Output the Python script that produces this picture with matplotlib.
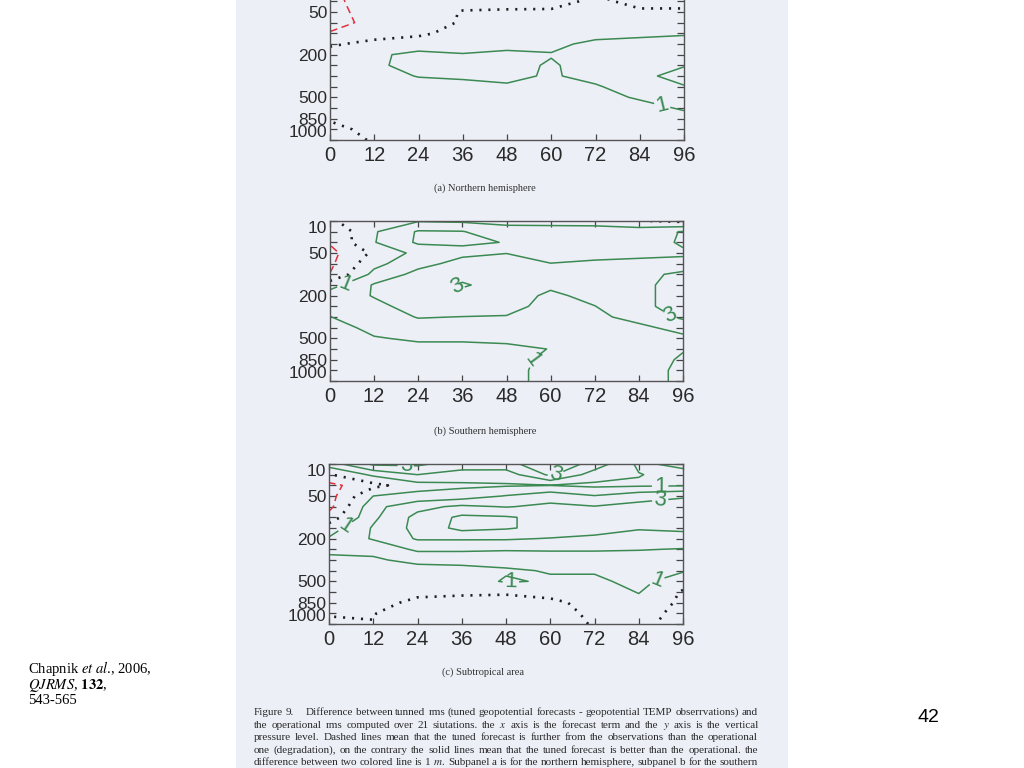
import numpy as np
import matplotlib
matplotlib.use("Agg")
import matplotlib.pyplot as plt
from matplotlib.patches import Rectangle

plt.rcParams['font.family'] = ['Liberation Sans', 'DejaVu Sans']
plt.rcParams['mathtext.fontset'] = 'stix'

# ---------------- data ----------------
pressure_levels = [10, 20, 30, 50, 70, 100, 150, 200, 250, 300, 400, 500, 700, 850, 925, 1000]
forecast_terms = [0, 12, 24, 36, 48, 60, 72, 84, 96]
labelled_levels = [10, 50, 200, 500, 850, 1000]
xtick_values = [0, 12, 24, 36, 48, 60, 72, 84, 96]

# rms difference (m), rows = pressure levels (10 -> 1000 hPa), cols = forecast terms
diff_north = [
    [-1.05, -0.8, -0.6, -0.6, -0.5, -0.5, -0.3, -0.5, -0.5],
    [-1.1, -0.7, -0.5, -0.5, -0.4, -0.4, -0.1, -0.4, -0.4],
    [-1.2, -0.6, -0.5, -0.3, -0.3, -0.25, 0.15, -0.2, -0.2],
    [-1.4, -0.5, -0.4, 0.05, 0.1, 0.1, 0.35, 0.1, 0.1],
    [-1.5, -0.6, -0.5, 0.1, 0.3, 0.3, 0.5, 0.5, 0.6],
    [-0.9, -0.3, -0.15, 0.3, 0.5, 0.5, 0.7, 0.8, 0.9],
    [-0.1, 0.2, 0.4, 0.6, 0.7, 0.8, 1.2, 1.3, 1.4],
    [0.3, 0.8, 1.3, 1.05, 1.2, 1.05, 1.4, 1.5, 1.7],
    [0.4, 0.8, 1.4, 1.2, 1.3, 0.9, 1.4, 1.6, 1.95],
    [0.4, 0.6, 1.05, 1.1, 1.2, 0.9, 1.3, 1.8, 2.3],
    [0.3, 0.5, 0.6, 0.8, 0.9, 0.85, 0.9, 1.5, 1.95],
    [0.3, 0.4, 0.5, 0.5, 0.6, 0.6, 0.7, 1.1, 1.6],
    [0.2, 0.3, 0.4, 0.4, 0.4, 0.4, 0.5, 0.7, 1.1],
    [0.1, 0.3, 0.3, 0.3, 0.3, 0.3, 0.4, 0.5, 0.7],
    [-0.3, 0.3, 0.3, 0.3, 0.3, 0.3, 0.3, 0.4, 0.5],
    [-0.5, 0.1, 0.3, 0.3, 0.3, 0.3, 0.3, 0.3, 0.4],
]

diff_south = [
    [-0.2, 0.95, 0.93, 0.85, 0.8, 0.7, 0.5, 0.07, -0.2],
    [-0.9, 0.9, 2.1, 2.05, 1.3, 1.4, 1.6, 1.6, 2.05],
    [-0.9, 0.95, 2.15, 2.1, 1.98, 1.6, 1.7, 1.6, 2.1],
    [-1.3, 0.2, 1.3, 1.8, 1.98, 1.6, 1.8, 1.8, 1.9],
    [-1.2, 0.7, 1.7, 2.3, 2.4, 2.02, 2.1, 2.2, 2.2],
    [-0.97, 1.3, 2.3, 2.7, 2.6, 2.2, 2.3, 2.6, 3.3],
    [0.6, 2.1, 2.6, 3.1, 2.6, 2.2, 2.4, 2.7, 3.5],
    [1.5, 2.05, 2.5, 2.7, 2.5, 1.8, 2.3, 2.7, 3.5],
    [1.2, 1.8, 2.3, 2.5, 2.3, 1.7, 1.98, 2.7, 3.5],
    [0.98, 1.5, 2.05, 1.98, 1.95, 1.6, 1.8, 2.3, 3.2],
    [0.7, 1.2, 1.6, 1.6, 1.6, 1.5, 1.6, 1.8, 2.3],
    [0.5, 0.95, 1.1, 1.1, 1.2, 1.3, 1.5, 1.6, 1.8],
    [0.4, 0.7, 0.8, 0.8, 0.8, 1.02, 1.4, 1.5, 1.05],
    [0.3, 0.5, 0.6, 0.7, 0.7, 1.2, 1.4, 1.4, 0.9],
    [0.3, 0.4, 0.5, 0.6, 0.7, 1.3, 1.4, 1.4, 0.8],
    [0.3, 0.4, 0.5, 0.6, 0.7, 1.3, 1.4, 1.4, 0.8],
]

diff_subtrop = [
    [1.5, 3.2, 3.2, 2.5, 2.6, 3.9, 2.6, 0.8, 1.3],
    [-0.1, 1.2, 2.0, 1.6, 1.5, 3.2, 1.5, 1.05, 0.6],
    [-1.3, -0.3, 0.6, 0.8, 0.9, 0.98, 0.8, 0.85, 0.9],
    [-1.4, 1.0, 1.3, 1.5, 2.05, 2.6, 2.05, 2.6, 2.9],
    [-1.3, 1.7, 2.7, 3.2, 2.95, 3.2, 3.05, 3.3, 3.4],
    [-0.6, 1.8, 3.3, 4.2, 4.1, 3.7, 3.3, 3.4, 3.5],
    [0.5, 2.1, 3.3, 4.3, 4.1, 3.7, 3.4, 3.1, 3.2],
    [1.1, 2.1, 3.1, 3.1, 3.1, 2.95, 2.8, 2.5, 2.6],
    [1.1, 1.2, 2.2, 2.2, 2.1, 2.1, 2.1, 2.05, 1.95],
    [0.9, 0.9, 1.2, 1.2, 1.3, 1.5, 1.5, 1.5, 1.6],
    [0.7, 0.7, 0.7, 0.8, 0.9, 1.05, 1.1, 1.4, 1.1],
    [0.5, 0.5, 0.45, 0.5, 1.1, 0.9, 0.8, 1.3, 0.4],
    [0.4, 0.4, 0.2, 0.15, 0.1, 0.3, 0.4, 1.05, -0.1],
    [0.3, 0.3, -0.2, -0.3, -0.3, -0.2, 0.3, 0.7, -0.2],
    [0.1, 0.03, -0.4, -0.5, -0.5, -0.3, 0.15, 0.4, -0.3],
    [-0.25, -0.02, -0.5, -0.6, -0.5, -0.3, 0.05, 0.2, -0.3],
]

panel_titles = ["(a) Northern hemisphere", "(b) Southern hemisphere", "(c) Subtropical area"]

caption_lines = [
    "Figure 9. Difference between tunned rms (tuned geopotential forecasts - geopotential TEMP obserrvations) and",
    "the operational rms computed over 21 siutations. the $x$ axis is the forecast term and the $y$ axis is the vertical",
    "pressure level. Dashed lines mean that the tuned forecast is further from the observations than the operational",
    "one (degradation), on the contrary the solid lines mean that the tuned forecast is better than the operational. the",
    "difference between two colored line is 1 $m$. Subpanel a is for the northern hemisphere, subpanel b for the southern",
]
caption_tail = "hemisphere and subpanel c for the subtropical area."

# ---------------- layout / style ----------------
W, H = 1024, 768
GREEN = '#3b8a52'
RED = '#e2303c'
panel_rects_px = [(330, -20, 684, 140), (330, 221, 683, 381), (329, 464, 683, 624)]
caption_pos_px = [(485, 188), (485, 431), (483, 672)]
label_positions = [
    [(90.2, 11.6)],
    [(3.8, 5.7), (34.5, 6.1), (92.0, 9.1), (55.0, 13.0)],
    [(20.8, 0.3), (61.2, 0.75), (89.8, 2.0), (89.8, 3.3), (4.3, 5.8), (49.3, 11.0), (89.3, 11.4)],
]
grids = [diff_north, diff_south, diff_subtrop]

fig = plt.figure(figsize=(W / 100, H / 100), dpi=100)
fig.patch.set_facecolor('white')
fig.add_artist(Rectangle((236 / W, 0), 552 / W, 1, transform=fig.transFigure,
                         facecolor='#edeff7', edgecolor='none', zorder=0))

yidx = np.arange(len(pressure_levels))
X, Y = np.meshgrid(forecast_terms, yidx)

for k, grid in enumerate(grids):
    l, t, r, b = panel_rects_px[k]
    ax = fig.add_axes([l / W, 1 - b / H, (r - l) / W, (b - t) / H])
    ax.set_facecolor('none')
    Z = np.array(grid, dtype=float)

    cpos = ax.contour(X, Y, Z, levels=[1, 2, 3, 4, 5], colors=GREEN, linewidths=1.1)
    ax.contour(X, Y, Z, levels=[-3, -2, -1], colors=RED, linewidths=1.1,
               linestyles=[(0, (5, 3))])
    ax.contour(X, Y, Z, levels=[0], colors='#1e1e1e', linewidths=1.9,
               linestyles=[(0, (0.8, 2.6))])
    try:
        ax.clabel(cpos, manual=label_positions[k], fmt='%d', fontsize=16,
                  colors=GREEN, inline=True, inline_spacing=2)
    except Exception:
        pass

    ax.set_xlim(0, 96)
    ax.set_ylim(len(pressure_levels) - 1, 0)
    ax.set_xticks(xtick_values)
    ax.set_xticklabels([str(v) for v in xtick_values])
    ax.set_yticks(yidx)
    ax.set_yticklabels([str(p) if p in labelled_levels else '' for p in pressure_levels])
    ylabs = ax.get_yticklabels()
    ylabs[0].set_va('top')
    ylabs[-1].set_va('bottom')

    ax.tick_params(axis='both', direction='in', color='#444444', labelcolor='#2a2a2a',
                   width=0.9)
    ax.tick_params(axis='y', length=5, right=True, pad=2, labelsize=12.5)
    ax.tick_params(axis='x', length=4, top=True, pad=4, labelsize=14.5)
    for sp in ax.spines.values():
        sp.set_color('#555555')
        sp.set_linewidth(1.0)

    cx, cy = caption_pos_px[k]
    fig.text(cx / W, 1 - cy / H, panel_titles[k], ha='center', va='center',
             family='Liberation Serif', fontsize=7.5, color='#333333')

# figure caption, justified between x0 and x1
renderer = fig.canvas.get_renderer()
cap_style = dict(family='Liberation Serif', fontsize=8.0, color='#2a2a2a', va='baseline', ha='left')
x0_px, x1_px = 254, 758
for i, line in enumerate(caption_lines):
    y = 1 - (715 + 12.6 * i) / H
    words = line.split(' ')
    weights = [1.0] * (len(words) - 1)
    if i == 0:
        weights[1] = 4.0  # wider gap after "Figure 9."
    texts = [fig.text(x0_px / W, y, w, **cap_style) for w in words]
    widths = [t.get_window_extent(renderer).width for t in texts]
    gap = (x1_px - x0_px - sum(widths)) / sum(weights)
    x = x0_px
    for j, (t, w) in enumerate(zip(texts, widths)):
        t.set_x(x / W)
        if j < len(weights):
            x += w + gap * weights[j]
fig.text(386 / W, 1 - (715 + 12.6 * 5) / H, caption_tail, **cap_style)

# citation
cit = dict(family='Liberation Serif', fontsize=10.5, color='black', ha='left', va='center')
fig.text(28 / W, 1 - 669 / H, r"Chapnik $\mathit{et\ al}$., 2006,", **cit)
fig.text(28 / W, 1 - 685 / H, r"$\mathit{QJRMS}$, $\mathbf{132}$,", **cit)
fig.text(28 / W, 1 - 700 / H, "543-565", **cit)

# page number
fig.text(928 / W, 1 - 717 / H, "42", ha='center', va='center', fontsize=14,
         family='Liberation Sans', color='black')

fig.savefig("out.png", dpi=100, facecolor=fig.get_facecolor())
